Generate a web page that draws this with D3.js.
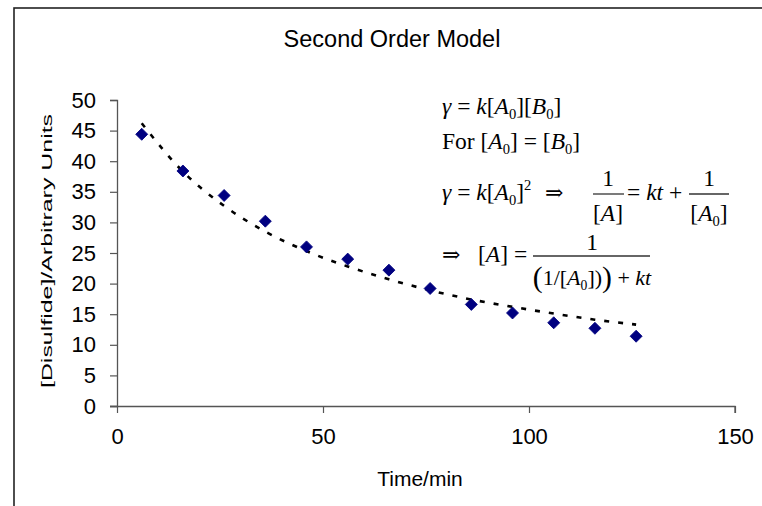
<!DOCTYPE html>
<html>
<head>
<meta charset="utf-8">
<script src="https://cdn.jsdelivr.net/npm/d3@7"></script>
<style>
  html, body { margin: 0; padding: 0; background: #fff; }
  svg { display: block; }
  text { white-space: pre; }
</style>
</head>
<body>
<div id="chart"></div>
<script>
// Disulfide concentration measured over time
const times = [6, 16, 26, 36, 46, 56, 66, 76, 86, 96, 106, 116, 126];
const disulfide = [44.4, 38.4, 34.4, 30.2, 26.0, 24.0, 22.2, 19.2, 16.6, 15.2, 13.6, 12.7, 11.4];
// Second order model curve at the same times
const modelFit = [46.2, 38.3, 32.7, 28.5, 25.3, 22.8, 20.7, 18.9, 17.4, 16.2, 15.1, 14.1, 13.3];
// Axis ticks
const xTicks = [0, 50, 100, 150];
const yTicks = [0, 5, 10, 15, 20, 25, 30, 35, 40, 45, 50];

const W = 762, H = 506;
const svg = d3.select("#chart").append("svg").attr("width", W).attr("height", H);

// Chart frame
svg.append("rect")
  .attr("x", 14).attr("y", 8).attr("width", W + 10).attr("height", H + 10)
  .attr("fill", "none").attr("stroke", "#222").attr("stroke-width", 1.6);

const x = d3.scaleLinear().domain([0, 150]).range([117, 735]);
const y = d3.scaleLinear().domain([0, 50]).range([406, 100]);

const sans = "'Liberation Sans', Arial, sans-serif";
const serif = "'Liberation Serif', 'Times New Roman', serif";

// Axes
const xAxis = svg.append("g").attr("transform", `translate(0,${y(0)})`)
  .call(d3.axisBottom(x).tickValues(xTicks).tickSize(7).tickPadding(15).tickFormat(d3.format("d")));
const yAxis = svg.append("g").attr("transform", `translate(${x(0)},0)`)
  .call(d3.axisLeft(y).tickValues(yTicks).tickSize(7).tickPadding(14).tickFormat(d3.format("d")));
[xAxis, yAxis].forEach(a => {
  a.select(".domain").attr("stroke", "#555").attr("stroke-width", 1.3);
  a.selectAll(".tick line").attr("stroke", "#555").attr("stroke-width", 1.2);
  a.selectAll(".tick text").attr("fill", "#000").attr("font-family", sans).attr("font-size", 22);
});
xAxis.select(".domain").attr("d", `M${x(0) - 7},0.5H${x(150)}V7`);

// Titles
svg.append("text").attr("x", 392).attr("y", 47).attr("text-anchor", "middle")
  .attr("font-family", sans).attr("font-size", 23.5).text("Second Order Model");
svg.append("text").attr("x", 420).attr("y", 486).attr("text-anchor", "middle")
  .attr("font-family", sans).attr("font-size", 21).text("Time/min");
svg.append("text").attr("transform", "translate(52,251) rotate(-90) scale(1.72,1)").attr("text-anchor", "middle")
  .attr("font-family", sans).attr("font-size", 14.5).text("[Disulfide]/Arbitrary Units");

// Model curve (dashed)
const line = d3.line().x((d, i) => x(times[i])).y(d => y(d)).curve(d3.curveMonotoneX);
svg.append("path").datum(modelFit).attr("d", line)
  .attr("fill", "none").attr("stroke", "#000").attr("stroke-width", 2.6)
  .attr("stroke-dasharray", "5,9");

// Data markers (diamonds)
const diamond = d3.symbol().type(d3.symbolSquare).size(72);
svg.selectAll("path.pt").data(disulfide).join("path").attr("class", "pt")
  .attr("d", diamond)
  .attr("transform", (d, i) => `translate(${x(times[i])},${y(d)}) rotate(45)`)
  .attr("fill", "#000080").attr("stroke", "#000080").attr("stroke-width", 0.8);

// Equations
const FS = 23.5;
function math(xp, yp, parts, anchor, fs) {
  const size = fs || FS;
  const t = svg.append("text").attr("x", xp).attr("y", yp)
    .attr("font-family", serif).attr("font-size", size).attr("text-anchor", anchor || "start");
  let shift = 0;
  parts.forEach(([s, k]) => {
    const sp = t.append("tspan").text(s);
    let target = 0;
    if (k === "i") sp.attr("font-style", "italic");
    if (k === "sub") { sp.attr("font-size", size * 0.62); target = 5; }
    if (k === "sup") { sp.attr("font-size", size * 0.62); target = -10; }
    if (k === "big") { sp.attr("font-size", size * 1.35); target = 2; }
    sp.attr("dy", target - shift);
    shift = target;
  });
  return t;
}
function arrow(xp, yp) {
  svg.append("text").attr("x", xp).attr("y", yp).attr("font-family", "'DejaVu Serif', serif")
    .attr("font-size", 22).text("⇒");
}
function bar(x1, x2, yp) {
  svg.append("line").attr("x1", x1).attr("x2", x2).attr("y1", yp).attr("y2", yp)
    .attr("stroke", "#333").attr("stroke-width", 1.3);
}

math(442, 114, [["γ", "i"], [" = ", "r"], ["k", "i"], ["[", "r"], ["A", "i"], ["0", "sub"], ["][", "r"], ["B", "i"], ["0", "sub"], ["]", "r"]]);
math(442, 149, [["For [", "r"], ["A", "i"], ["0", "sub"], ["] = [", "r"], ["B", "i"], ["0", "sub"], ["]", "r"]]);

math(442, 200, [["γ", "i"], [" = ", "r"], ["k", "i"], ["[", "r"], ["A", "i"], ["0", "sub"], ["]", "r"], ["2", "sup"]]);
arrow(545, 200);
math(608, 186, [["1", "r"]], "middle");
bar(593, 624, 194);
math(608, 221, [["[", "r"], ["A", "i"], ["]", "r"]], "middle");
math(627, 200, [["= ", "r"], ["kt", "i"], [" +", "r"]]);
math(709, 186, [["1", "r"]], "middle");
bar(689, 729, 194);
math(709, 221, [["[", "r"], ["A", "i"], ["0", "sub"], ["]", "r"]], "middle");

arrow(442, 262);
math(478, 262, [["[", "r"], ["A", "i"], ["] =", "r"]]);
math(592, 250, [["1", "r"]], "middle");
bar(533, 650, 256);
math(592, 285, [["(", "big"], ["1/[", "r"], ["A", "i"], ["0", "sub"], ["])", "r"], [")", "big"], [" + ", "r"], ["kt", "i"]], "middle", 22);
</script>
</body>
</html>
